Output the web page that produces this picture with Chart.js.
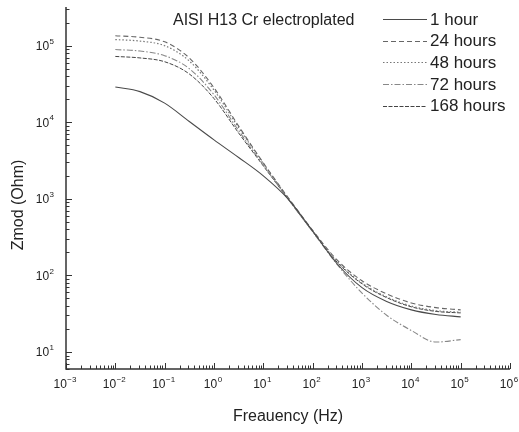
<!DOCTYPE html>
<html>
<head>
<meta charset="utf-8">
<script src="https://cdn.jsdelivr.net/npm/chart.js@4.4.0/dist/chart.umd.min.js"></script>
<style>
html,body{margin:0;padding:0;background:#fff;}
#wrap{width:519px;height:432px;position:relative;}
</style>
</head>
<body>
<div id="wrap"><canvas id="c" width="519" height="432"></canvas></div>
<script>
// Frequencies (Hz)
const freqs = [0.01, 0.0316, 0.1, 0.316, 1, 3.16, 10, 31.6, 100, 316, 1000, 3160, 10000, 31600, 100000];
// |Z| (Ohm) per series
const z1h   = [28840, 25120, 17780, 10230, 5890, 3470, 1995, 1000, 380, 141, 69.2, 45.7, 35.5, 30.9, 28.8];
const z24h  = [134900, 128800, 112200, 69180, 28180, 8910, 2950, 1047, 389, 158, 85.1, 57.5, 43.7, 38.0, 35.5];
const z48h  = [120200, 114800, 100000, 63100, 26300, 8510, 2880, 1023, 380, 151, 79.4, 52.5, 39.8, 34.7, 33.1];
const z72h  = [89100, 85100, 74100, 50100, 22900, 7760, 2750, 1000, 372, 138, 58.9, 30.2, 19.1, 13.5, 14.5];
const z168h = [72400, 69200, 61700, 42700, 20400, 7240, 2690, 1000, 372, 148, 77.6, 51.3, 38.9, 33.9, 32.4];
const seriesLabels = ['1 hour', '24 hours', '48 hours', '72 hours', '168 hours'];
const xDecades = [-3, -2, -1, 0, 1, 2, 3, 4, 5, 6];
const yDecades = [1, 2, 3, 4, 5];
const chartTitle = 'AISI H13 Cr electroplated';
const xTitle = 'Freauency (Hz)';
const yTitle = 'Zmod (Ohm)';

const FONT = '"Liberation Sans", Arial, sans-serif';
const styles = [
  {color:'#4a4a4a', dash:[], width:1.1},
  {color:'#666', dash:[5,3], width:1.1},
  {color:'#777', dash:[1.5,2], width:1.2},
  {color:'#888', dash:[6,2,1.5,2], width:1.1},
  {color:'#444', dash:[4,1.5], width:1.0}
];
const allZ = [z1h, z24h, z48h, z72h, z168h];
const datasets = allZ.map((arr, i) => ({
  label: seriesLabels[i],
  data: freqs.map((f, j) => ({x: f, y: arr[j]})),
  borderColor: styles[i].color,
  borderDash: styles[i].dash,
  borderWidth: styles[i].width,
  pointRadius: 0,
  fill: false,
  cubicInterpolationMode: 'monotone'
}));

function drawPow(ctx, x, y, exp, align) {
  ctx.save();
  ctx.textBaseline = 'middle';
  ctx.font = '12px ' + FONT;
  const wBase = ctx.measureText('10').width;
  ctx.font = '8px ' + FONT;
  const expStr = String(exp).replace('-', '\u2212');
  const wExp = ctx.measureText(expStr).width;
  const total = wBase + wExp + 0.5;
  let x0 = align === 'right' ? x - total : x - total / 2;
  ctx.fillStyle = '#222';
  ctx.textAlign = 'left';
  ctx.font = '12px ' + FONT;
  ctx.fillText('10', x0, y);
  ctx.font = '8px ' + FONT;
  ctx.fillText(expStr, x0 + wBase + 0.5, y - 5);
  ctx.restore();
}

const decor = {
  id: 'decor',
  afterDraw(chart) {
    const {ctx, chartArea: ca, scales} = chart;
    const xs = scales.x, ys = scales.y;
    ctx.save();
    ctx.strokeStyle = '#333';
    ctx.lineWidth = 1.5;
    ctx.beginPath();
    ctx.moveTo(ca.left, ca.top);
    ctx.lineTo(ca.left, ca.bottom);
    ctx.lineTo(ca.right, ca.bottom);
    ctx.stroke();
    ctx.lineWidth = 1;
    ctx.beginPath();
    xDecades.forEach(d => {
      const base = Math.pow(10, d);
      const px = Math.round(xs.getPixelForValue(base)) + 0.5;
      ctx.moveTo(px, ca.bottom); ctx.lineTo(px, ca.bottom - 6);
      if (d < 6) {
        for (let m = 2; m <= 9; m++) {
          const p = Math.round(xs.getPixelForValue(m * base)) + 0.5;
          ctx.moveTo(p, ca.bottom); ctx.lineTo(p, ca.bottom - 3.5);
        }
      }
    });
    for (let d = 0; d <= 5; d++) {
      const base = Math.pow(10, d);
      for (let m = 1; m <= 9; m++) {
        const v = m * base;
        if (v < ys.min || v > ys.max) continue;
        const py = Math.round(ys.getPixelForValue(v)) + 0.5;
        ctx.moveTo(ca.left, py); ctx.lineTo(ca.left + (m === 1 ? 6 : 3.5), py);
      }
    }
    ctx.stroke();
    xDecades.forEach(d => {
      drawPow(ctx, xs.getPixelForValue(Math.pow(10, d)) - 1, ca.bottom + 16, d, 'center');
    });
    yDecades.forEach(d => {
      drawPow(ctx, ca.left - 12, ys.getPixelForValue(Math.pow(10, d)) + 1, d, 'right');
    });
    ctx.fillStyle = '#222';
    ctx.font = '16px ' + FONT;
    ctx.textAlign = 'center';
    ctx.textBaseline = 'middle';
    ctx.fillText(xTitle, (ca.left + ca.right) / 2, 417);
    ctx.save();
    ctx.translate(19, 205);
    ctx.rotate(-Math.PI / 2);
    ctx.fillText(yTitle, 0, 0);
    ctx.restore();
    ctx.textAlign = 'left';
    ctx.fillText(chartTitle, 173, 21);
    ctx.font = '17px ' + FONT;
    chart.data.datasets.forEach((ds, i) => {
      const y = 19 + i * 21.7;
      ctx.save();
      ctx.strokeStyle = ds.borderColor;
      ctx.lineWidth = ds.borderWidth;
      ctx.setLineDash(ds.borderDash);
      ctx.beginPath();
      ctx.moveTo(383, Math.round(y) + 0.5);
      ctx.lineTo(427, Math.round(y) + 0.5);
      ctx.stroke();
      ctx.restore();
      ctx.fillStyle = '#222';
      ctx.fillText(ds.label, 430, y + 1);
    });
    ctx.restore();
  }
};

new Chart(document.getElementById('c'), {
  type: 'line',
  data: { datasets },
  options: {
    responsive: false,
    animation: false,
    events: [],
    layout: { padding: { left: 66, right: 9, top: 7, bottom: 63 } },
    plugins: { legend: { display: false }, tooltip: { enabled: false }, title: { display: false } },
    scales: {
      x: {
        type: 'logarithmic', min: 0.001, max: 1000000,
        grid: { display: false }, border: { display: false },
        ticks: { display: false },
        afterFit: s => { s.height = 0; }
      },
      y: {
        type: 'logarithmic', min: 6, max: 320000,
        grid: { display: false }, border: { display: false },
        ticks: { display: false },
        afterFit: s => { s.width = 0; }
      }
    }
  },
  plugins: [decor]
});
</script>
</body>
</html>
